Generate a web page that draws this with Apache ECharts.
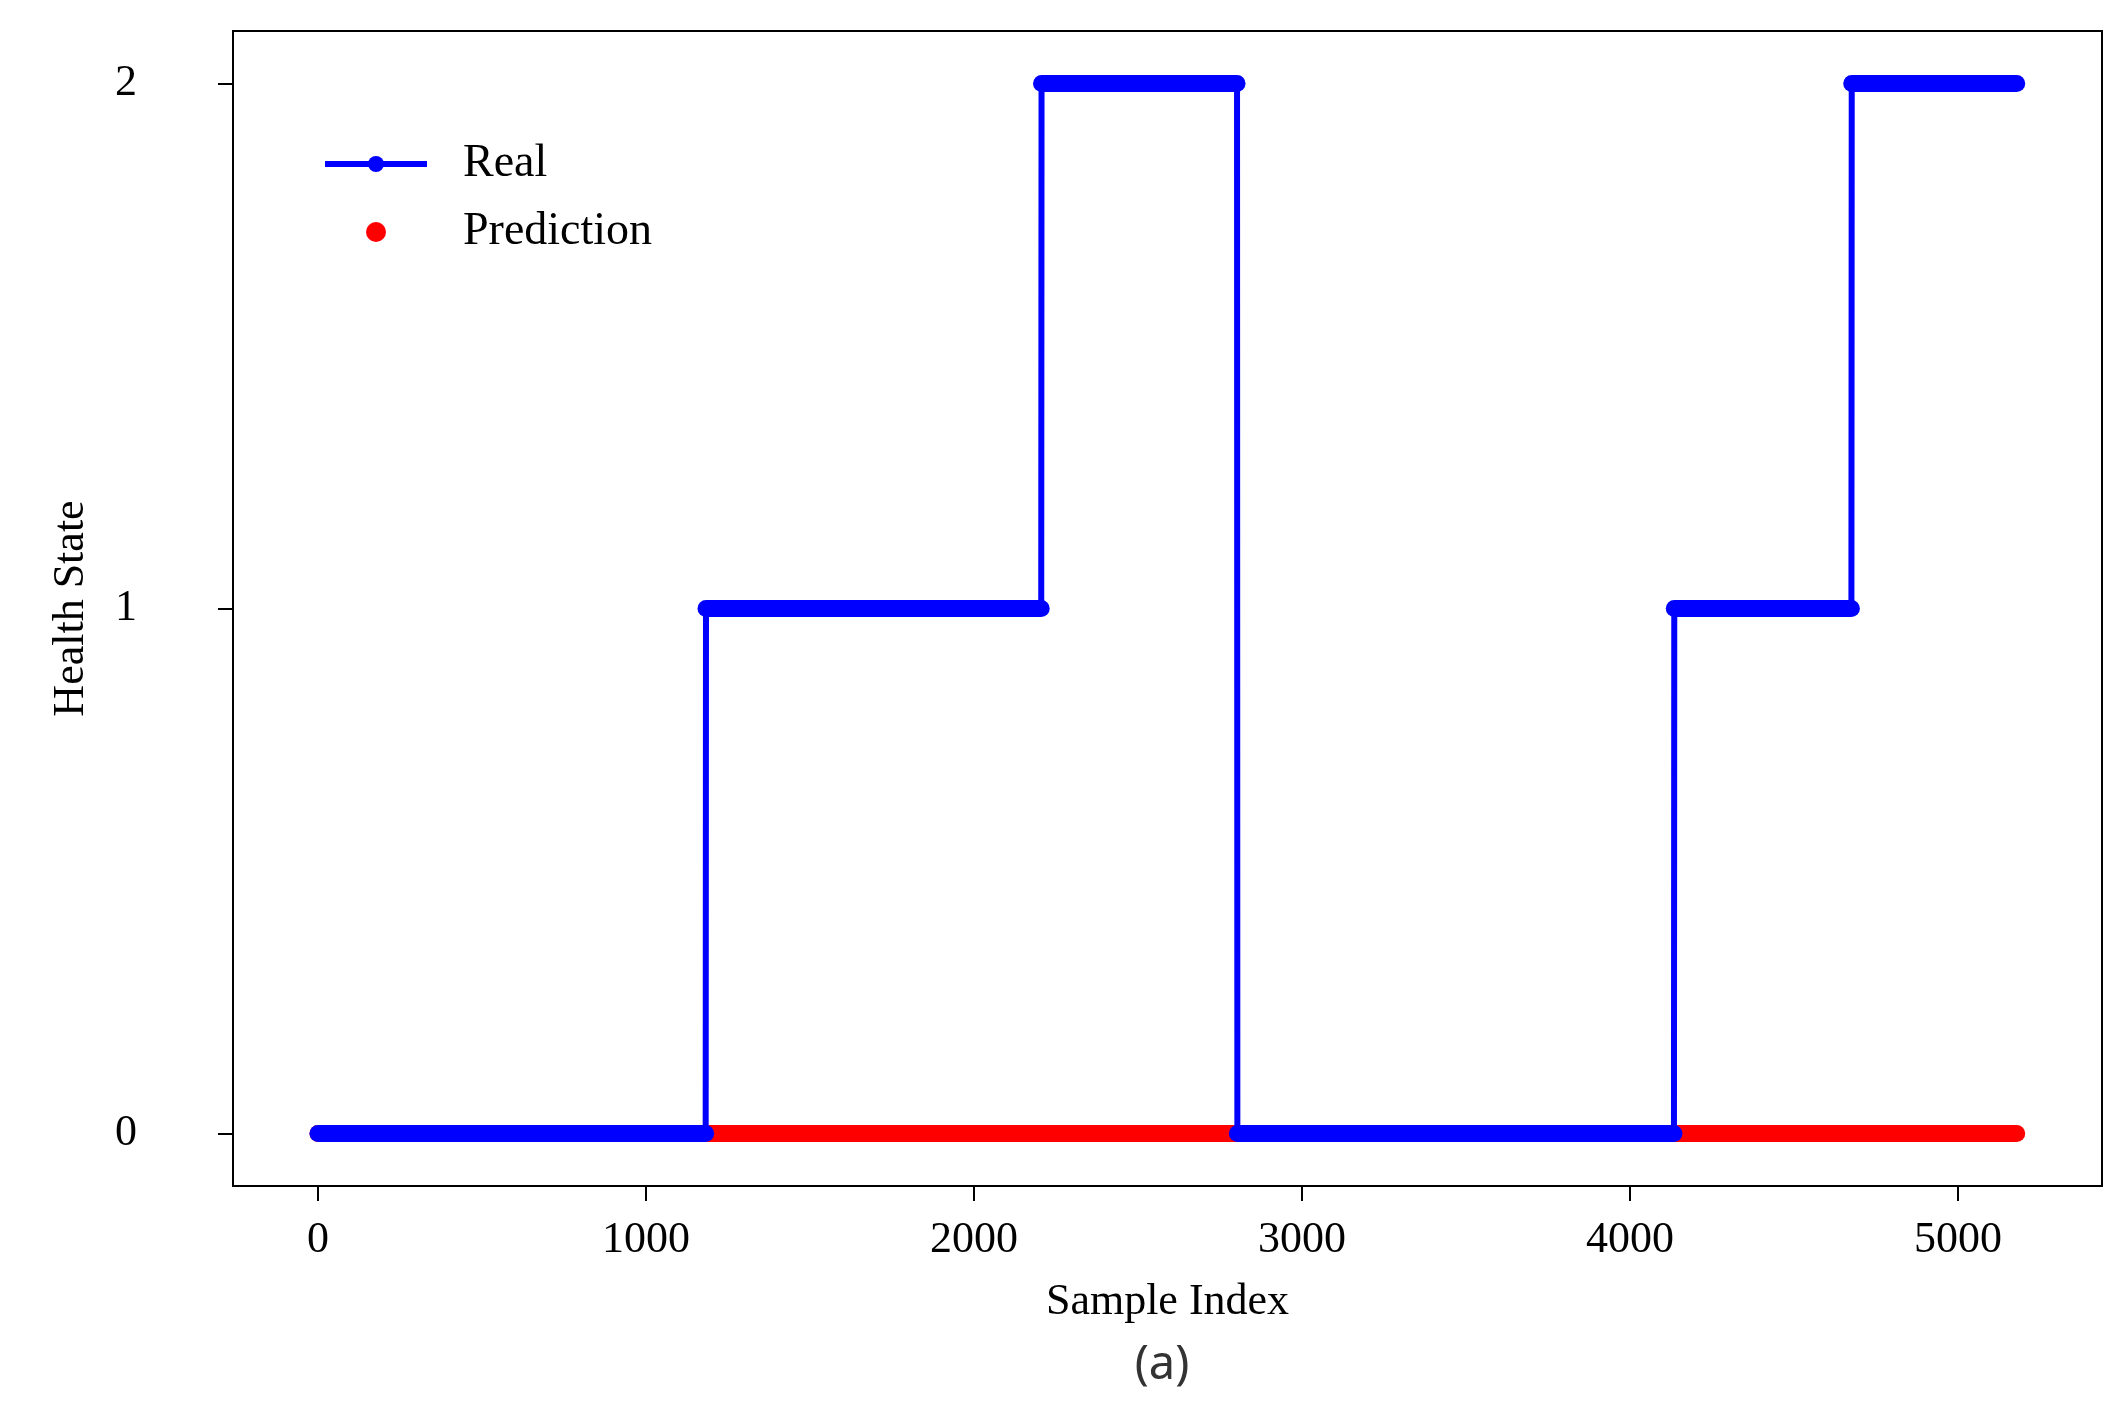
<!DOCTYPE html>
<html>
<head>
<meta charset="utf-8">
<script src="https://cdn.jsdelivr.net/npm/echarts@6/dist/echarts.min.js"></script>
<style>
html,body{margin:0;padding:0;background:#fff;}
#chart{width:2128px;height:1416px;}
</style>
</head>
<body>
<div id="chart"></div>
<script>
// Real health state, run-length segments (sample index start/end, state)
const realSegStart = [0, 1183, 2206, 2803, 4135, 4676];
const realSegEnd   = [1182, 2205, 2802, 4134, 4675, 5179];
const realSegState = [0, 1, 2, 0, 1, 2];
// Prediction health state segments
const predSegStart = [0];
const predSegEnd   = [5179];
const predSegState = [0];
// Tick labels
const xTickValues = [0, 1000, 2000, 3000, 4000, 5000];
const yTickValues = [0, 1, 2];

const serif = '"Liberation Serif", "Times New Roman", serif';

const series = [];
// Prediction band (red markers merged)
for (let i = 0; i < predSegStart.length; i++) {
  series.push({
    name: i === 0 ? 'Prediction' : 'PredictionSeg' + i,
    type: 'line',
    data: [[predSegStart[i], predSegState[i]], [predSegEnd[i], predSegState[i]]],
    symbol: 'circle',
    showSymbol: false,
    color: '#ff0000',
    lineStyle: { color: '#ff0000', width: 17, cap: 'round' },
    z: 1,
    silent: true
  });
}
// Real band per segment (blue markers merged)
for (let i = 0; i < realSegStart.length; i++) {
  series.push({
    name: 'RealBand' + i,
    type: 'line',
    data: [[realSegStart[i], realSegState[i]], [realSegEnd[i], realSegState[i]]],
    showSymbol: false,
    symbol: 'none',
    color: '#0000ff',
    lineStyle: { color: '#0000ff', width: 17, cap: 'round' },
    z: 2,
    silent: true
  });
}
// Real line through all samples (segment ends)
const realLine = [];
for (let i = 0; i < realSegStart.length; i++) {
  realLine.push([realSegStart[i], realSegState[i]]);
  realLine.push([realSegEnd[i], realSegState[i]]);
}
series.push({
  name: 'Real',
  type: 'line',
  data: realLine,
  symbol: 'circle',
  symbolSize: 18,
  showSymbol: false,
  color: '#0000ff',
  lineStyle: { color: '#0000ff', width: 6 },
  z: 3,
  silent: true
});

const chart = echarts.init(document.getElementById('chart'), null, { renderer: 'canvas' });
chart.setOption({
  animation: false,
  backgroundColor: '#ffffff',
  grid: {
    left: 233, right: 26, top: 31, bottom: 230,
    show: true, borderColor: '#000', borderWidth: 2, backgroundColor: 'transparent'
  },
  legend: {
    left: 317, top: 136,
    orient: 'vertical',
    itemWidth: 102,
    itemHeight: 20,
    itemGap: 22,
    data: [{ name: 'Real' }, { name: 'Prediction', icon: 'circle' }],
    lineStyle: { width: 6 },
    textStyle: { fontFamily: serif, fontSize: 46, color: '#000', padding: [0, 0, 0, 31], lineHeight: 46 },
    selectedMode: false
  },
  xAxis: {
    type: 'value',
    min: -259, max: 5439,
    name: 'Sample Index',
    nameLocation: 'middle',
    nameGap: 94,
    nameTextStyle: { fontFamily: serif, fontSize: 44, color: '#000' },
    splitLine: { show: false },
    axisLine: { show: true, onZero: false, lineStyle: { color: '#000', width: 2 } },
    axisTick: { show: true, length: 15, lineStyle: { color: '#000', width: 2 }, customValues: xTickValues },
    axisLabel: { fontFamily: serif, fontSize: 44, color: '#000', margin: 32, customValues: xTickValues,
      formatter: function (v) { return String(v); } }
  },
  yAxis: {
    type: 'value',
    min: -0.1, max: 2.1,
    name: 'Health State',
    nameLocation: 'middle',
    nameGap: 140,
    nameRotate: 90,
    nameTextStyle: { fontFamily: serif, fontSize: 44, color: '#000' },
    splitLine: { show: false },
    axisLine: { show: true, onZero: false, lineStyle: { color: '#000', width: 2 } },
    axisTick: { show: true, length: 15, lineStyle: { color: '#000', width: 2 }, customValues: yTickValues },
    axisLabel: { fontFamily: serif, fontSize: 44, color: '#000', margin: 96, customValues: yTickValues,
      formatter: function (v) { return String(v); } }
  },
  graphic: [{
    type: 'text',
    x: 1162,
    y: 1366,
    style: { text: '(a)', font: '47px "Noto Sans", sans-serif', fill: '#333', textAlign: 'center', textVerticalAlign: 'middle' }
  }],
  series: series
});
</script>
</body>
</html>
